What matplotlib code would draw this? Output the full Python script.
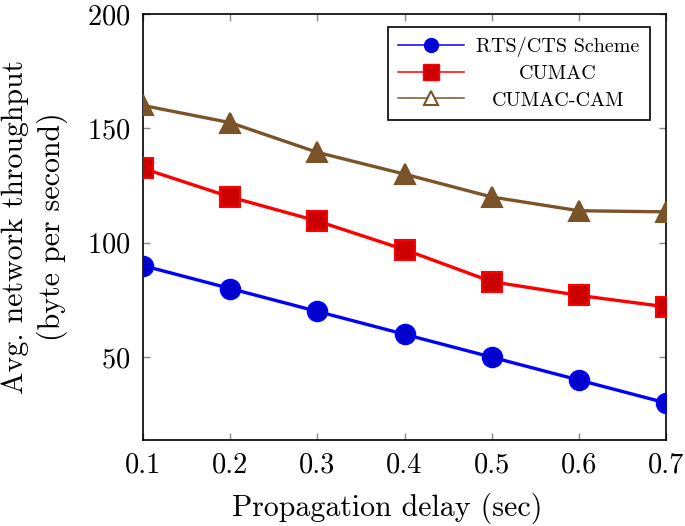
import matplotlib
matplotlib.use("Agg")
import matplotlib.pyplot as plt
from matplotlib.lines import Line2D
from matplotlib.transforms import Affine2D

plt.rcParams['font.family'] = 'serif'
plt.rcParams['font.serif'] = ['cmr10', 'DejaVu Serif']
plt.rcParams['mathtext.fontset'] = 'cm'
plt.rcParams['axes.formatter.use_mathtext'] = True

delay = [0.1, 0.2, 0.3, 0.4, 0.5, 0.6, 0.7]
rts_cts = [90, 80, 70, 60, 50, 40, 30]
cumac = [132.5, 120, 109.5, 97, 83, 77, 72]
cumac_cam = [160, 152.5, 139.5, 130, 120, 114, 113.5]
labels = ["RTS/CTS Scheme", "CUMAC", "CUMAC-CAM"]
xticks = [0.1, 0.2, 0.3, 0.4, 0.5, 0.6, 0.7]
yticks = [50, 100, 150, 200]

BLUE, RED, BROWN = '#0000FF', '#FF0000', '#7A5428'

fig = plt.figure(figsize=(6.85, 5.26), dpi=100)
ax = fig.add_axes([0.2088, 0.1635, 0.7635, 0.810])

ax.plot(delay, rts_cts, color=BLUE, lw=2.4, marker='o', ms=14,
        mfc='#0000CC', mec=BLUE, mew=1.5, zorder=3)
ax.plot(delay, cumac, color=RED, lw=2.4, marker='s', ms=14,
        mfc='#CC0000', mec=RED, mew=1.5, zorder=3)
ax.plot(delay, cumac_cam, color=BROWN, lw=2.4, marker='^', ms=14,
        mfc=BROWN, mec=BROWN, mew=1.5, zorder=3)

ax.set_xlim(0.1, 0.7)
ax.set_ylim(13.8, 200)
ax.set_xticks(xticks)
ax.set_xticklabels([str(v) for v in xticks])
ax.set_yticks(yticks)
ax.tick_params(direction='in', length=5, width=1, color='#888888',
               top=True, right=True, labelsize=20.5, pad=9)
for s in ax.spines.values():
    s.set_linewidth(1.2)
    s.set_color('black')

ax.set_xlabel("Propagation delay (sec)", fontsize=21.5, labelpad=10)
ax.xaxis.label.set_x(0.4675)
ax.set_ylabel("Avg. network throughput\n(byte per second)", fontsize=21.5,
              labelpad=14, linespacing=1.3)

handles = [
    Line2D([], [], color=BLUE, lw=1.1, marker='o', ms=10, mfc='#0000CC', mec=BLUE),
    Line2D([], [], color=RED, lw=1.1, marker='s', ms=11, mfc='#CC0000', mec=RED),
    Line2D([], [], color=BROWN, lw=1.1, marker='^', ms=10, mfc='white', mec=BROWN, mew=1.5),
]
leg = ax.legend(handles, labels, loc='upper right', bbox_to_anchor=(0.969, 0.969),
                borderaxespad=0, fontsize=14.5, handlelength=3.3, handletextpad=0.6,
                labelspacing=0.4, borderpad=0.5, fancybox=False, framealpha=1,
                edgecolor='black')
leg.get_frame().set_linewidth(1.2)

fig.canvas.draw()
texts = leg.get_texts()
widths = [t.get_window_extent().width for t in texts]
W = max(widths)
for t, w in zip(texts, widths):
    t.set_transform(t.get_transform() + Affine2D().translate((W - w) / 2, 0))

fig.savefig("out.png", dpi=100)
